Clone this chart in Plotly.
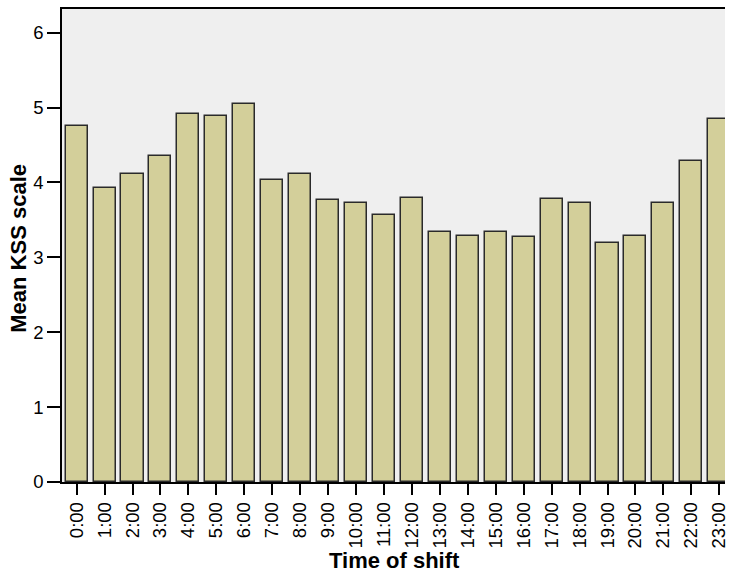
import plotly.graph_objects as go

hours = [f"{h}:00" for h in range(24)]
mean_kss = [4.76, 3.92, 4.11, 4.35, 4.92, 4.89, 5.05, 4.04, 4.12, 3.77, 3.73, 3.56,
            3.79, 3.34, 3.29, 3.34, 3.27, 3.78, 3.72, 3.19, 3.29, 3.73, 4.29, 4.85]
y_ticks = [0, 1, 2, 3, 4, 5, 6]

FONT = "Liberation Sans, Arial, sans-serif"

fig = go.Figure(go.Bar(
    x=list(range(len(hours))),
    y=mean_kss,
    width=0.79,
    marker=dict(color="#d3cf9a", line=dict(color="#2a2a2a", width=1.5)),
))

fig.update_layout(
    width=729, height=574,
    margin=dict(l=62, r=0, t=9, b=92),
    paper_bgcolor="white",
    plot_bgcolor="#efefef",
    showlegend=False,
    bargap=0,
    font=dict(family=FONT, color="black", size=18),
    xaxis=dict(
        range=[-0.523, 23.205],
        tickmode="array",
        tickvals=list(range(len(hours))),
        ticktext=hours,
        tickangle=-90,
        ticklabeloverflow="allow",
        ticks="outside", ticklen=11, tickwidth=1.5, tickcolor="black",
        showline=True, linecolor="black", linewidth=1.5, mirror=True,
        showgrid=False, zeroline=False,
        tickfont=dict(family=FONT, size=18.5, color="black"),
    ),
    yaxis=dict(
        range=[0, 6.317],
        tickmode="array",
        tickvals=y_ticks,
        ticks="outside", ticklen=13, tickwidth=1.5, tickcolor="black",
        showline=True, linecolor="black", linewidth=1.5,
        showgrid=False, zeroline=False,
        tickfont=dict(family=FONT, size=18.5, color="black"),
    ),
    annotations=[
        dict(text="<b>Time of shift</b>", xref="paper", yref="paper",
             x=(397 - 62) / 667, y=-80 / 482,
             xanchor="center", yanchor="middle", showarrow=False,
             font=dict(family=FONT, size=22, color="black")),
        dict(text="<b>Mean KSS scale</b>", xref="paper", yref="paper",
             x=(18.5 - 62) / 667, y=(482 - 248) / 473,
             xanchor="center", yanchor="middle", textangle=-90, showarrow=False,
             font=dict(family=FONT, size=22, color="black")),
    ],
)

fig.write_html(
    "out.html",
    config={"displayModeBar": False},
    post_script="document.body.style.margin='0';document.body.style.overflow='hidden';",
)
